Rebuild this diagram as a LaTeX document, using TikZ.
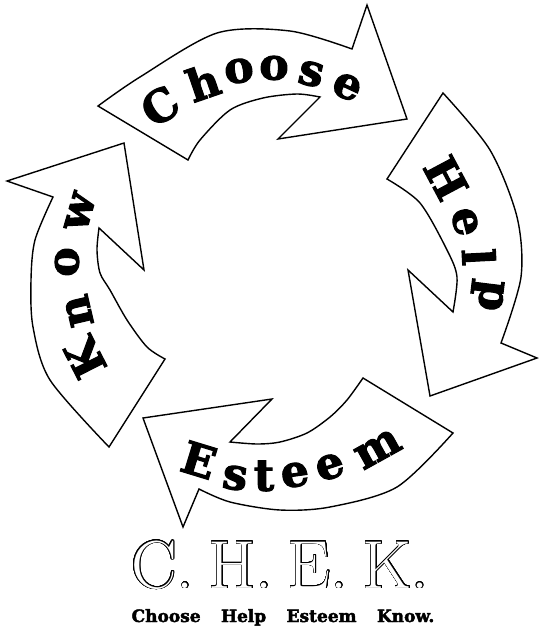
\documentclass[tikz,border=0pt]{standalone}
\usepackage{fontspec}
\usepackage{contour}
\newfontfamily\wordfont{DejaVu Serif}[BoldFeatures={FakeBold=2.5}]
\contourlength{0.6pt}
\contournumber{32}
\tikzset{
  band/.style={draw=black, fill=white, line width=1.4pt, line join=miter},
  letter/.style={font=\wordfont\bfseries\fontsize{44}{44}\selectfont, inner sep=0pt},
  chek/.style={font=\fontsize{68}{68}\selectfont, text=white, inner sep=0pt},
  legend/.style={font=\wordfont\bfseries\fontsize{17}{17}\selectfont, inner sep=0pt}
}

\begin{document}
\begin{tikzpicture}[x=1pt, y=-1pt]
\useasboundingbox (0,0) rectangle (538,626);

\draw[band] plot[smooth] coordinates {(98,106) (140,77) (217,33) (290,31) (352,49)}
  -- (367,5) -- (407,119) -- (278,139) -- (320,97)
  -- plot[smooth] coordinates {(320,97) (297,94) (263,98) (230,110) (200,140) (188,160)} -- cycle;
\draw[band] plot[smooth] coordinates {(443,93) (490,150) (517,217) (521,277) (501,343)}
  -- (537,358) -- (430,396) -- (408,270) -- (453,312)
  -- plot[smooth] coordinates {(453,312) (457,277) (447,250) (420,203) (387,179)} -- cycle;
\draw[band] plot[smooth] coordinates {(453,433) (397,487) (330,507) (280,510) (230,502) (199,489)}
  -- (183,527) -- (143,418) -- (272,399) -- (230,442)
  -- plot[smooth] coordinates {(230,442) (257,444) (280,442) (307,433) (330,417) (347,400) (363,378)} -- cycle;
\draw[band] plot[smooth] coordinates {(109,447) (50,380) (33,327) (31,280) (35,240) (53,197)}
  -- (7,181) -- (124,143) -- (144,270) -- (99,228)
  -- plot[smooth] coordinates {(99,228) (97,250) (100,273) (110,290) (127,320) (147,347) (165,359)} -- cycle;

\foreach \ch/\x/\y/\a [count=\i] in {C/160/106/33, h/203/82/19, o/239/71/9, o/274/68/-1, s/311/74/-13, e/347/87/-25}
  \node[letter, rotate=\a] (choose\i) at (\x,\y) {\ch};
\foreach \ch/\x/\y/\a [count=\i] in {H/446/178/-62, e/465/222/-76, l/479/257/-87, p/487/295/-97}
  \node[letter, rotate=\a] (help\i) at (\x,\y) {\ch};
\foreach \ch/\x/\y/\a [count=\i] in {E/199/460/-17, s/235/478/-8, t/264/476/0, e/295/475/8, e/330/467/18, m/378/449/29}
  \node[letter, rotate=\a] (esteem\i) at (\x,\y) {\ch};
\foreach \ch/\x/\y/\a [count=\i] in {K/85/358/117, n/79/311/103, o/67/262/89, w/80/212/74}
  \node[letter, rotate=\a] (know\i) at (\x,\y) {\ch};

\node[chek, anchor=base] (chek) at (280,588) {\contour{black}{C.\kern15pt H.\kern15pt E.\kern15pt K.}};
\node[legend, anchor=base] (legend) at (283,622) {Choose\hspace{1.2em}Help\hspace{1.2em}Esteem\hspace{1.2em}Know.};
\end{tikzpicture}
\end{document}
